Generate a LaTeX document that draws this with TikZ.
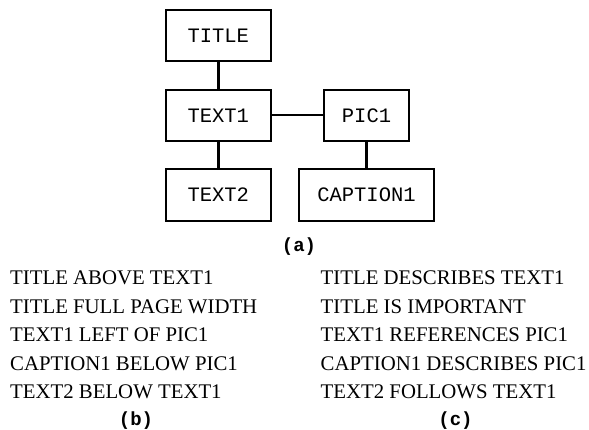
\documentclass[tikz,border=0pt]{standalone}
\usepackage{fontspec}
\setmainfont{Liberation Serif}
\newfontfamily\monofam{Liberation Mono}
\begin{document}
\begin{tikzpicture}[x=1pt,y=-1pt,
  box/.style={draw=black,line width=2.4pt,rectangle,inner sep=0pt,outer sep=0pt,
    minimum height=51pt,font=\monofam\fontsize{20.5}{22}\selectfont},
  conn/.style={draw=black,line width=2.4pt},
  rel/.style={anchor=base west,inner sep=0pt,font=\fontsize{20.8}{24}\selectfont},
  sub/.style={inner sep=0pt,font=\monofam\bfseries\fontsize{19}{22}\selectfont}]
\useasboundingbox (0,0) rectangle (589,430);
\node[box,minimum width=105pt] (title) at (218.3,35.3) {TITLE};
\node[box,minimum width=105pt] (text1) at (218.3,115.3) {TEXT1};
\node[box,minimum width=105pt,minimum height=52pt] (text2) at (218.3,195) {TEXT2};
\node[box,minimum width=85pt] (pic1) at (366.5,115.3) {PIC1};
\node[box,minimum width=135pt,minimum height=52pt] (cap1) at (366.5,195) {CAPTION1};
\draw[conn] (title) -- (text1);
\draw[conn] (text1) -- (text2);
\draw[conn] (text1) -- (pic1);
\draw[conn] (pic1) -- (cap1);
\node[sub] (la) at (299,247) {(a)};
\node[rel] (b1) at (10,284.3) {TITLE ABOVE TEXT1};
\node[rel] (b2) at (10,313) {TITLE FULL PAGE WIDTH};
\node[rel] (b3) at (10,341.6) {TEXT1 LEFT OF PIC1};
\node[rel] (b4) at (10,370) {CAPTION1 BELOW PIC1};
\node[rel] (b5) at (10,398.4) {TEXT2 BELOW TEXT1};
\node[rel] (c1) at (320.5,284.3) {TITLE DESCRIBES TEXT1};
\node[rel] (c2) at (320.5,313) {TITLE IS IMPORTANT};
\node[rel] (c3) at (320.5,341.6) {TEXT1 REFERENCES PIC1};
\node[rel] (c4) at (320.5,370) {CAPTION1 DESCRIBES PIC1};
\node[rel] (c5) at (320.5,398.4) {TEXT2 FOLLOWS TEXT1};
\node[sub] (lb) at (136,421) {(b)};
\node[sub] (lc) at (455.5,421) {(c)};
\end{tikzpicture}
\end{document}
